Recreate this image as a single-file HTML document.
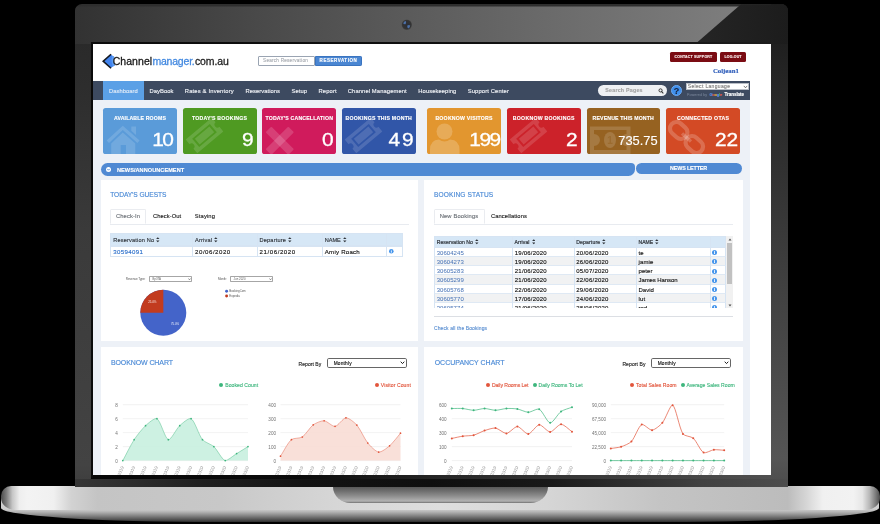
<!DOCTYPE html>
<html lang="en"><head><meta charset="utf-8"><title>Channelmanager.com.au - Dashboard</title>
<style>
*{box-sizing:border-box}
html,body{margin:0;padding:0;background:#000}
body{width:880px;height:524px;position:relative;overflow:hidden;font-family:"Liberation Sans",sans-serif}
.a{position:absolute}
.t{position:absolute;line-height:0;white-space:nowrap;-webkit-text-stroke-width:0.13px}
#bezel{position:absolute;left:75px;top:4.2px;width:712.7px;height:482.7px;border-radius:7px 7px 0 0;overflow:hidden;background:#2e2e2e}
#bl{position:absolute;left:0;top:38px;width:18px;height:444.7px;background:linear-gradient(to bottom,#2a2a2a 0,#2d2d2d 10%,#3a3a3a 42%,#434343 95%,#3d3d3d 100%)}
#br{position:absolute;left:695.5px;top:0;width:17.2px;height:482.7px;background:linear-gradient(to bottom,#191919 0,#1d1d1d 5%,#262626 17%,#3f3f3f 56%,#555555 94%,#4c4c4c 100%)}
#stripA{position:absolute;left:16px;top:470.6px;width:680.5px;height:4.2px;background:linear-gradient(to right,#070707 0,#0b0b0b 30%,#282828 53%,#3d3d3d 78%,#505050 100%)}
#stripB{position:absolute;left:0;top:474.6px;width:712.7px;height:8.1px;background:linear-gradient(to right,#363636 0,#313131 4%,#1f1f1f 18%,#131313 32%,#0f0f0f 50%,#181818 66%,#414141 88%,#4d4d4d 100%)}
#glare{position:absolute;left:0;top:2.3px;width:668px;height:37.6px;
 background:linear-gradient(to right,#323232 0,#363636 5%,#484848 26%,#5a5a5a 49%,#6c6c6c 73%,#7e7e7e 100%);
 clip-path:polygon(0 0,667.3px 0,620.8px 37.6px,0 37.6px)}
#dark{position:absolute;left:600px;top:0;width:112.7px;height:40px;background:linear-gradient(to right,#272727,#1c1c1c);
 clip-path:polygon(66px 0,112.7px 0,112.7px 40px,20px 40px)}
#rimL{position:absolute;left:16px;top:38.3px;width:2.1px;height:436px;background:#0b0b0b}
#rimT{position:absolute;left:16px;top:38.3px;width:680px;height:1.6px;background:linear-gradient(to right,#0b0b0b 0,#101010 60%,#1c1c1c 100%)}
#cam{position:absolute;left:401px;top:19px;width:12px;height:12px}
#screen{position:absolute;left:93px;top:44px;width:678px;height:431px;overflow:hidden;background:#fff}
#g{position:absolute;left:-93px;top:-44px;width:880px;height:524px;will-change:transform}
#base{position:absolute;left:0.5px;top:486.4px;width:879px;height:23.4px;border-radius:10px 10px 15px 15px/10px 10px 12px 12px;
 background:linear-gradient(to right,#4c4c4c 0,#7c7c7c 0.6%,#c6c6c6 1.3%,#eee 2.1%,#f3f3f3 3%,#f0f0f0 6%,#d2d2d2 8%,#c4c4c4 11%,#c8c8c8 25%,#d6d6d6 38%,#dedede 50%,#d6d6d6 62%,#c4c4c4 75%,#bcbcbc 89.5%,#d4d4d4 91.5%,#f0f0f0 93.5%,#f2f2f2 97%,#e6e6e6 98%,#b8b8b8 98.8%,#7c7c7c 99.5%,#4c4c4c 100%)}
#under{position:absolute;left:1px;top:498px;width:878px;height:23.8px;border-radius:0 0 215px 215px/0 0 14px 14px;
 background:linear-gradient(to bottom,#d0d0d0 0,#cfcfcf 46%,#b4b4b4 58%,#8a8a8a 72%,#585858 88%,#2e2e2e 100%)}
#notch{position:absolute;left:333.4px;top:486.6px;width:214.2px;height:16.9px;border-radius:0 0 18px 18px/0 0 16.5px 16.5px;
 background:linear-gradient(to bottom,#585858 0,#6e6e6e 25%,#8c8c8c 55%,#b2b2b2 88%,#707070 100%)}
</style></head><body>
<div id="under"></div>
<div id="base"></div>
<div id="notch"></div>
<div id="bezel"><div id="bl"></div><div id="br"></div><div id="glare"></div><div id="dark"></div><div id="stripB"></div><div id="stripA"></div><div id="rimT"></div><div id="rimL"></div></div>
<svg id="cam" viewBox="0 0 12 12"><defs><radialGradient id="cg" cx="50%" cy="50%" r="50%"><stop offset="0" stop-color="#2b2f38"/><stop offset="0.8" stop-color="#333"/><stop offset="1" stop-color="#484848"/></radialGradient></defs><circle cx="5.8" cy="5.7" r="5.2" fill="url(#cg)"/><path d="M2.2 4.4 Q2.6 2.2 4.9 1.9 Q5.4 3.6 4.6 5 Q3.4 5.6 2.2 4.4 Z" fill="#4c6fa6"/><path d="M6.3 6.6 Q8 5.6 9.2 6.6 Q9.3 8.7 7.3 9.6 Q5.8 8.6 6.3 6.6 Z" fill="#4c6fa6"/></svg>
<div id="screen"><div id="g">
<div class="a" style="left:93.00px;top:44.00px;width:678.00px;height:37.00px;background:#fff"></div>
<div class="a" style="left:93.00px;top:100.00px;width:656.50px;height:375.00px;background:#edf1f7"></div>
<svg class="a" style="left:100px;top:52px" width="18" height="18" viewBox="0 0 18 18">
<path d="M10.6 2.5 L3.6 9.3 L10.6 16.1 L15 13.3 Q12.3 9.3 14.2 4.7 Z" fill="#4284ee"/>
<path d="M12.2 4 L14.2 4.7 Q12.3 9.3 15 13.3 L13 14.6 Q10.6 9.3 12.2 4 Z" fill="#5d9df4"/>
<path d="M10.5 1.8 L2 9.3 L10.5 16.8 L11.6 15.8 L4.4 9.3 L11.6 2.8 Z" fill="#14181f"/>
</svg>
<div class="t" style="left:112.70px;top:61px;font-size:10.5px;color:#161616;letter-spacing:0.054px;-webkit-text-stroke:0.28px #161616;">Channel</div>
<div class="t" style="left:152.40px;top:61px;font-size:10.5px;color:#4389e0;letter-spacing:-0.198px;-webkit-text-stroke:0.28px #4389e0;">manager.</div>
<div class="t" style="left:194.90px;top:61px;font-size:10.5px;color:#222;letter-spacing:-0.073px;-webkit-text-stroke:0.28px #222;">com.au</div>
<div class="a" style="left:258.30px;top:55.90px;width:56.50px;height:9.90px;background:#fff;border:0.7px solid #9aa4b2;border-radius:1px"></div>
<div class="t" style="left:263.10px;top:61px;font-size:4.6px;color:#a9adb3;letter-spacing:0.253px;">Search Reservation</div>
<div class="a" style="left:314.50px;top:55.90px;width:47.60px;height:9.90px;background:#4a86d2;border-radius:0 1.2px 1.2px 0;border:0.5px solid #3a74c0"></div>
<div class="t" style="left:319.60px;top:61px;font-size:4.5px;color:#fff;letter-spacing:0.539px;font-weight:700;">RESERVATION</div>
<div class="a" style="left:669.80px;top:51.80px;width:47.10px;height:10.00px;background:#7b0c13;border-radius:1.5px"></div>
<div class="t" style="left:674.60px;top:57px;font-size:3.5px;color:#fbeeee;letter-spacing:0.203px;font-weight:700;-webkit-text-stroke:0.12px #fbeeee;">CONTACT SUPPORT</div>
<div class="a" style="left:720.00px;top:51.80px;width:26.40px;height:10.00px;background:#7b0c13;border-radius:1.5px"></div>
<div class="t" style="left:724.50px;top:57px;font-size:3.5px;color:#fbeeee;letter-spacing:0.137px;font-weight:700;-webkit-text-stroke:0.12px #fbeeee;">LOG-OUT</div>
<div class="t" style="left:712.90px;top:71px;font-size:6.8px;color:#2d5cba;letter-spacing:-0.020px;font-weight:700;font-family:'Liberation Serif', serif;-webkit-text-stroke:0.15px #2d5cba;">Coljean1</div>
<div class="a" style="left:93.00px;top:81.00px;width:656.50px;height:19.00px;background:#3d4a60"></div>
<div class="a" style="left:103.00px;top:81.00px;width:41.00px;height:19.00px;background:#5ba0e6"></div>
<div class="t" style="left:108.90px;top:91px;font-size:5.8px;color:#dfeaf8;letter-spacing:0.071px;">Dashboard</div>
<div class="t" style="left:149.50px;top:91px;font-size:5.8px;color:#f2f4f8;letter-spacing:0.053px;">DayBook</div>
<div class="t" style="left:184.80px;top:91px;font-size:5.8px;color:#f2f4f8;letter-spacing:0.178px;">Rates &amp; Inventory</div>
<div class="t" style="left:245.50px;top:91px;font-size:5.8px;color:#f2f4f8;letter-spacing:0.055px;">Reservations</div>
<div class="t" style="left:291.40px;top:91px;font-size:5.8px;color:#f2f4f8;letter-spacing:0.129px;">Setup</div>
<div class="t" style="left:318.50px;top:91px;font-size:5.8px;color:#f2f4f8;letter-spacing:0.132px;">Report</div>
<div class="t" style="left:347.80px;top:91px;font-size:5.8px;color:#f2f4f8;letter-spacing:0.109px;">Channel Management</div>
<div class="t" style="left:418.30px;top:91px;font-size:5.8px;color:#f2f4f8;letter-spacing:0.085px;">Housekeeping</div>
<div class="t" style="left:467.70px;top:91px;font-size:5.8px;color:#f2f4f8;letter-spacing:0.141px;">Support Center</div>
<div class="a" style="left:597.70px;top:84.90px;width:69.30px;height:10.90px;background:#eef0f3;border-radius:5.5px"></div>
<div class="t" style="left:605.30px;top:90px;font-size:5.3px;color:#a2a2a2;letter-spacing:0.229px;font-weight:700;">Search Pages</div>
<svg class="a" style="left:657.6px;top:87.8px" width="6" height="6" viewBox="0 0 8 8"><circle cx="3.4" cy="3.2" r="2.1" fill="none" stroke="#333" stroke-width="1.3"/><path d="M4.9 4.8 L6.7 6.7" stroke="#333" stroke-width="1.5" stroke-linecap="round"/></svg>
<div class="a" style="left:670.90px;top:84.90px;width:11.00px;height:11.00px;background:#3f8fec;border-radius:50%;border:0.6px solid #6aa9f2"></div>
<div class="t" style="left:673.65px;top:91px;font-size:9px;color:#17233f;font-weight:700;">?</div>
<div class="a" style="left:686.20px;top:83.30px;width:62.80px;height:6.70px;background:#fff;border:0.5px solid #b9bec6"></div>
<div class="t" style="left:687.80px;top:86px;font-size:5.0px;color:#7d7d7d;letter-spacing:0.330px;">Select Language</div>
<svg class="a" style="left:742.5px;top:85px" width="5" height="4" viewBox="0 0 5 4"><path d="M0.8 0.9 L2.5 2.8 L4.2 0.9" fill="none" stroke="#555" stroke-width="0.8"/></svg>
<div class="t" style="left:686.90px;top:95px;font-size:3.6px;color:#6d7a8e;letter-spacing:0.142px;">Powered by</div>
<div class="t" style="left:709.40px;top:95px;font-size:4.2px;color:#aaa;letter-spacing:-0.311px;font-weight:700;"><span style="color:#5b8def">G</span><span style="color:#e2574c">o</span><span style="color:#e8b53a">o</span><span style="color:#5b8def">g</span><span style="color:#4caf6a">l</span><span style="color:#e2574c">e</span></div>
<div class="t" style="left:724.50px;top:95px;font-size:4.6px;color:#fff;letter-spacing:-0.075px;font-weight:700;">Translate</div>
<div class="a" style="left:103px;top:107.9px;width:74.0px;height:46.2px;background:#5a9bd9;border-radius:2.6px;overflow:hidden"><svg class="a" style="left:0;top:0" width="74" height="47" viewBox="0 0 74 47"><g fill="#fff" fill-opacity="0.14"><path d="M3.6 32.6 L19.8 17.8 L36.6 32.6 L34.4 35 L19.8 22 L6 35 Z"/><path d="M8.2 35.4 L19.8 24.6 L32.3 35.4 L32.3 47 L23 47 L23 37 L17.7 37 L17.7 47 L8.2 47 Z"/><path d="M28.3 18.4 L33 18.4 L33 27 L28.3 22.8 Z"/></g></svg></div>
<div class="t" style="left:114.00px;top:118px;font-size:5.2px;color:#fff;letter-spacing:0.136px;font-weight:700;">AVAILABLE ROOMS</div>
<div class="t" style="left:154.46px;top:140px;font-size:19px;color:#fff;-webkit-text-stroke:0.32px #fff;transform:scaleX(1.1);transform-origin:right center;letter-spacing:-1.4px;">10</div>
<div class="a" style="left:183px;top:107.9px;width:73.5px;height:46.2px;background:#4f9a22;border-radius:2.6px;overflow:hidden"><svg class="a" style="left:0;top:0" width="74" height="47" viewBox="0 0 74 47"><g fill="#fff" fill-opacity="0.14" transform="translate(21.5,27.5) rotate(-40)"><path d="M-17 -9 L17 -9 L17 -3 A3 3 0 0 0 17 3 L17 9 L-17 9 L-17 3 A3 3 0 0 0 -17 -3 Z M-11.5 -5.5 L-11.5 5.5 L11.5 5.5 L11.5 -5.5 Z"/><rect x="-9.5" y="-3.7" width="19" height="7.4"/></g></svg></div>
<div class="t" style="left:192.10px;top:118px;font-size:5.2px;color:#fff;letter-spacing:0.189px;font-weight:700;">TODAY&#39;S BOOKINGS</div>
<div class="t" style="left:243.22px;top:140px;font-size:19px;color:#fff;-webkit-text-stroke:0.32px #fff;transform:scaleX(1.1);transform-origin:right center;letter-spacing:0.0px;">9</div>
<div class="a" style="left:262.1px;top:107.9px;width:73.9px;height:46.2px;background:#d01b5c;border-radius:2.6px;overflow:hidden"><svg class="a" style="left:0;top:0" width="74" height="47" viewBox="0 0 74 47"><g fill="#fff" fill-opacity="0.16" transform="translate(17.8,32.8)"><rect x="-16" y="-4" width="32" height="8" rx="1" transform="rotate(45)"/><rect x="-16" y="-4" width="32" height="8" rx="1" transform="rotate(-45)"/></g></svg></div>
<div class="t" style="left:265.50px;top:118px;font-size:5.2px;color:#fff;letter-spacing:0.167px;font-weight:700;">TODAY&#39;S CANCELLATION</div>
<div class="t" style="left:322.72px;top:140px;font-size:19px;color:#fff;-webkit-text-stroke:0.32px #fff;transform:scaleX(1.1);transform-origin:right center;letter-spacing:0.0px;">0</div>
<div class="a" style="left:341.9px;top:107.9px;width:73.8px;height:46.2px;background:#3156a8;border-radius:2.6px;overflow:hidden"><svg class="a" style="left:0;top:0" width="74" height="47" viewBox="0 0 74 47"><g fill="#fff" fill-opacity="0.14" transform="translate(21.5,27.5) rotate(-40)"><path d="M-17 -9 L17 -9 L17 -3 A3 3 0 0 0 17 3 L17 9 L-17 9 L-17 3 A3 3 0 0 0 -17 -3 Z M-11.5 -5.5 L-11.5 5.5 L11.5 5.5 L11.5 -5.5 Z"/><rect x="-9.5" y="-3.7" width="19" height="7.4"/></g></svg></div>
<div class="t" style="left:345.60px;top:118px;font-size:5.2px;color:#fff;letter-spacing:0.238px;font-weight:700;">BOOKINGS THIS MONTH</div>
<div class="t" style="left:391.06px;top:140px;font-size:19px;color:#fff;-webkit-text-stroke:0.32px #fff;transform:scaleX(1.1);transform-origin:right center;letter-spacing:1.6px;">49</div>
<div class="a" style="left:427.2px;top:107.9px;width:73.8px;height:46.2px;background:#e2962f;border-radius:2.6px;overflow:hidden"><svg class="a" style="left:0;top:0" width="74" height="47" viewBox="0 0 74 47"><g fill="#fff" fill-opacity="0.2"><circle cx="17.5" cy="23.5" r="8"/><path d="M3 46 L3 42 Q3 32 12 31.6 Q17.5 35.5 23 31.6 Q32.5 32 32.5 42 L32.5 46 Z"/></g></svg></div>
<div class="t" style="left:435.40px;top:118px;font-size:5.2px;color:#fff;letter-spacing:0.224px;font-weight:700;">BOOKNOW VISITORS</div>
<div class="t" style="left:471.60px;top:140px;font-size:19px;color:#fff;-webkit-text-stroke:0.32px #fff;transform:scaleX(1.1);transform-origin:right center;letter-spacing:-1.3px;">199</div>
<div class="a" style="left:507.2px;top:107.9px;width:73.6px;height:46.2px;background:#cc222a;border-radius:2.6px;overflow:hidden"><svg class="a" style="left:0;top:0" width="74" height="47" viewBox="0 0 74 47"><g fill="#fff" fill-opacity="0.14" transform="translate(21.5,27.5) rotate(-40)"><path d="M-17 -9 L17 -9 L17 -3 A3 3 0 0 0 17 3 L17 9 L-17 9 L-17 3 A3 3 0 0 0 -17 -3 Z M-11.5 -5.5 L-11.5 5.5 L11.5 5.5 L11.5 -5.5 Z"/><rect x="-9.5" y="-3.7" width="19" height="7.4"/></g></svg></div>
<div class="t" style="left:512.80px;top:118px;font-size:5.2px;color:#fff;letter-spacing:0.254px;font-weight:700;">BOOKNOW BOOKINGS</div>
<div class="t" style="left:567.22px;top:140px;font-size:19px;color:#fff;-webkit-text-stroke:0.32px #fff;transform:scaleX(1.1);transform-origin:right center;letter-spacing:0.0px;">2</div>
<div class="a" style="left:586.7px;top:107.9px;width:73.6px;height:46.2px;background:#966221;border-radius:2.6px;overflow:hidden"><svg class="a" style="left:0;top:0" width="74" height="47" viewBox="0 0 74 47"><g fill="#fff" fill-opacity="0.15"><path d="M3 18.5 L43.5 18.5 L43.5 46 L3 46 Z M7 22 L7 26 A2.5 2.5 0 0 1 7 38 L7 42 L39.5 42 L39.5 38 A2.5 2.5 0 0 1 39.5 26 L39.5 22 Z"/><ellipse cx="23" cy="32" rx="6" ry="8"/></g><text x="23" y="35.6" font-size="10" font-weight="700" text-anchor="middle" fill="#966221" fill-opacity="0.55" font-family="Liberation Sans, sans-serif">1</text></svg></div>
<div class="t" style="left:592.60px;top:118px;font-size:5.2px;color:#fff;letter-spacing:0.139px;font-weight:700;">REVENUE THIS MONTH</div>
<div class="t" style="left:618.26px;top:141px;font-size:12.9px;color:#fff;-webkit-text-stroke:0.12px #fff;transform:scaleY(1.04);">735.75</div>
<div class="a" style="left:666.2px;top:107.9px;width:73.8px;height:46.2px;background:#d34a25;border-radius:2.6px;overflow:hidden"><svg class="a" style="left:0;top:0" width="74" height="47" viewBox="0 0 74 47"><g fill="none" stroke="#fff" stroke-opacity="0.2" stroke-width="4.2" transform="translate(20.5,29.5) rotate(42)"><rect x="-20" y="-6.5" width="19" height="13" rx="6.5"/><rect x="1" y="-6.5" width="19" height="13" rx="6.5"/><path d="M-6 0 L6 0" stroke-width="3.4"/></g></svg></div>
<div class="t" style="left:677.00px;top:118px;font-size:5.2px;color:#fff;letter-spacing:0.277px;font-weight:700;">CONNECTED OTAS</div>
<div class="t" style="left:716.66px;top:140px;font-size:19px;color:#fff;-webkit-text-stroke:0.32px #fff;transform:scaleX(1.1);transform-origin:right center;letter-spacing:0.0px;">22</div>
<div class="a" style="left:101.10px;top:162.60px;width:533.80px;height:13.10px;background:#4f89d3;border-radius:6.5px 4px 6.5px 6.5px/6.5px 4px 6.5px 6.5px"></div>
<div class="a" style="left:635.50px;top:162.60px;width:106.40px;height:11.90px;background:#4f89d3;border-radius:6px"></div>
<div class="a" style="left:106.10px;top:166.90px;width:5.00px;height:5.00px;background:#fff;border-radius:50%"></div>
<svg class="a" style="left:106.1px;top:166.9px" width="5" height="5" viewBox="0 0 5 5"><path d="M1.3 1.9 L2.5 3.2 L3.7 1.9" fill="none" stroke="#4f89d3" stroke-width="0.9"/></svg>
<div class="t" style="left:117.00px;top:170px;font-size:5.6px;color:#fff;letter-spacing:0.040px;font-weight:700;">NEWS/ANNOUNCEMENT</div>
<div class="t" style="left:670.00px;top:168px;font-size:5.4px;color:#fff;letter-spacing:-0.149px;font-weight:700;">NEWS LETTER</div>
<div class="a" style="left:100.50px;top:179.70px;width:317.80px;height:161.40px;background:#fff"></div>
<div class="a" style="left:424.20px;top:179.70px;width:318.70px;height:161.40px;background:#fff"></div>
<div class="a" style="left:100.50px;top:347.40px;width:317.80px;height:132.60px;background:#fff"></div>
<div class="a" style="left:424.20px;top:347.40px;width:318.70px;height:132.60px;background:#fff"></div>
<div class="t" style="left:110.20px;top:195px;font-size:6.6px;color:#4b8ad6;letter-spacing:-0.037px;-webkit-text-stroke:0.14px #4b8ad6;transform:scaleY(1.12);">TODAY&#39;S GUESTS</div>
<div class="t" style="left:433.90px;top:195px;font-size:6.6px;color:#4b8ad6;letter-spacing:0.133px;-webkit-text-stroke:0.14px #4b8ad6;transform:scaleY(1.12);">BOOKING STATUS</div>
<div class="t" style="left:110.90px;top:363px;font-size:7.0px;color:#4b8ad6;letter-spacing:-0.097px;-webkit-text-stroke:0.14px #4b8ad6;transform:scaleY(1.12);">BOOKNOW CHART</div>
<div class="t" style="left:434.70px;top:363px;font-size:7.0px;color:#4b8ad6;letter-spacing:-0.014px;-webkit-text-stroke:0.14px #4b8ad6;transform:scaleY(1.12);">OCCUPANCY CHART</div>
<div class="a" style="left:110.20px;top:223.50px;width:298.60px;height:0.60px;background:#e8ebf0"></div>
<div class="a" style="left:110.20px;top:208.50px;width:35.50px;height:15.70px;background:#fff;border:0.5px solid #eaecf0;border-bottom:0.7px solid #fff;border-radius:1.5px 1.5px 0 0"></div>
<div class="t" style="left:116.00px;top:216px;font-size:5.8px;color:#6d7278;letter-spacing:0.100px;">Check-In</div>
<div class="t" style="left:153.00px;top:216px;font-size:5.8px;color:#1c1c1c;letter-spacing:0.065px;">Check-Out</div>
<div class="t" style="left:194.80px;top:216px;font-size:5.8px;color:#1c1c1c;letter-spacing:0.137px;">Staying</div>
<div class="a" style="left:434.00px;top:223.50px;width:299.30px;height:0.60px;background:#e8ebf0"></div>
<div class="a" style="left:433.90px;top:208.50px;width:50.70px;height:15.70px;background:#fff;border:0.5px solid #eaecf0;border-bottom:0.7px solid #fff;border-radius:1.5px 1.5px 0 0"></div>
<div class="t" style="left:439.70px;top:216px;font-size:5.8px;color:#6d7278;letter-spacing:0.136px;">New Bookings</div>
<div class="t" style="left:490.90px;top:216px;font-size:5.8px;color:#1c1c1c;letter-spacing:0.099px;">Cancellations</div>
<div class="a" style="left:110.20px;top:233.20px;width:292.50px;height:13.20px;background:#d6e7f6;border:0.5px solid #d6e4f3"></div>
<div class="a" style="left:110.20px;top:246.30px;width:292.50px;height:10.60px;background:#fff;border:0.5px solid #d6e4f3"></div>
<div class="a" style="left:192.35px;top:233.20px;width:0.50px;height:23.70px;background:#d6e4f3"></div>
<div class="a" style="left:257.25px;top:233.20px;width:0.50px;height:23.70px;background:#d6e4f3"></div>
<div class="a" style="left:322.35px;top:233.20px;width:0.50px;height:23.70px;background:#d6e4f3"></div>
<div class="a" style="left:386.05px;top:233.20px;width:0.50px;height:23.70px;background:#d6e4f3"></div>
<div class="t" style="left:113.20px;top:240px;font-size:5.6px;color:#2d3238;letter-spacing:0.181px;">Reservation No</div>
<svg class="a" style="left:156.2px;top:237.2px" width="3.6" height="5.5" viewBox="0 0 4 6"><path d="M0.1 2.25 L2 0.1 L3.9 2.25 Z M0.1 3.75 L2 5.9 L3.9 3.75 Z" fill="#2d3238"/></svg>
<div class="t" style="left:195.10px;top:240px;font-size:5.6px;color:#2d3238;letter-spacing:0.177px;">Arrival</div>
<svg class="a" style="left:214.2px;top:237.2px" width="3.6" height="5.5" viewBox="0 0 4 6"><path d="M0.1 2.25 L2 0.1 L3.9 2.25 Z M0.1 3.75 L2 5.9 L3.9 3.75 Z" fill="#2d3238"/></svg>
<div class="t" style="left:259.60px;top:240px;font-size:5.6px;color:#2d3238;letter-spacing:0.169px;">Departure</div>
<svg class="a" style="left:288.2px;top:237.2px" width="3.6" height="5.5" viewBox="0 0 4 6"><path d="M0.1 2.25 L2 0.1 L3.9 2.25 Z M0.1 3.75 L2 5.9 L3.9 3.75 Z" fill="#2d3238"/></svg>
<div class="t" style="left:324.80px;top:240px;font-size:5.6px;color:#2d3238;letter-spacing:-0.068px;">NAME</div>
<svg class="a" style="left:343.2px;top:237.2px" width="3.6" height="5.5" viewBox="0 0 4 6"><path d="M0.1 2.25 L2 0.1 L3.9 2.25 Z M0.1 3.75 L2 5.9 L3.9 3.75 Z" fill="#2d3238"/></svg>
<div class="t" style="left:113.20px;top:252px;font-size:6.1px;color:#2b6fcb;letter-spacing:0.372px;">30594091</div>
<div class="t" style="left:195.10px;top:252px;font-size:6.1px;color:#111;letter-spacing:0.510px;">20/06/2020</div>
<div class="t" style="left:259.60px;top:252px;font-size:6.1px;color:#111;letter-spacing:0.560px;">21/06/2020</div>
<div class="t" style="left:324.80px;top:252px;font-size:6.1px;color:#111;letter-spacing:0.234px;">Amiy Roach</div>
<svg class="a" style="left:389.1px;top:249.4px" width="4.6" height="4.6" viewBox="0 0 10 10"><circle cx="5" cy="5" r="5" fill="#4394ec"/><rect x="4.1" y="4.2" width="1.8" height="3.8" fill="#fff"/><circle cx="5" cy="2.7" r="1.05" fill="#fff"/></svg>
<div class="t" style="left:125.80px;top:279px;font-size:3.1px;color:#5a5a5a;letter-spacing:-0.090px;-webkit-text-stroke-width:0;">Revenue Type:</div>
<div class="a" style="left:149.20px;top:275.60px;width:42.80px;height:6.70px;background:#fff;border:0.45px solid #a6a6a6;border-radius:0.8px"></div>
<div class="t" style="left:152.60px;top:279px;font-size:2.8px;color:#5a5a5a;letter-spacing:-0.266px;-webkit-text-stroke-width:0;">By OTA</div>
<svg class="a" style="left:188.0px;top:277.8px" width="3" height="2.4" viewBox="0 0 3 2.4"><path d="M0.4 0.5 L1.5 1.8 L2.6 0.5" fill="none" stroke="#444" stroke-width="0.6"/></svg>
<div class="t" style="left:218.00px;top:279px;font-size:3.1px;color:#5a5a5a;letter-spacing:-0.128px;-webkit-text-stroke-width:0;">Month:</div>
<div class="a" style="left:230.10px;top:275.60px;width:42.90px;height:6.70px;background:#fff;border:0.45px solid #a6a6a6;border-radius:0.8px"></div>
<div class="t" style="left:233.60px;top:279px;font-size:2.8px;color:#5a5a5a;letter-spacing:0.061px;-webkit-text-stroke-width:0;">Jun 2020</div>
<svg class="a" style="left:269.0px;top:277.8px" width="3" height="2.4" viewBox="0 0 3 2.4"><path d="M0.4 0.5 L1.5 1.8 L2.6 0.5" fill="none" stroke="#444" stroke-width="0.6"/></svg>
<div class="a" style="left:434.20px;top:235.90px;width:292.00px;height:12.00px;background:#d6e7f6;border:0.5px solid #d6e4f3"></div>
<div class="a" style="left:434.20px;top:247.80px;width:292.00px;height:9.30px;background:#fff;border-bottom:0.5px solid #dfe9f4;border-left:0.5px solid #d6e4f3;border-right:0.5px solid #d6e4f3"></div>
<div class="t" style="left:436.70px;top:253px;font-size:6.0px;color:#4d78b9;letter-spacing:0.050px;-webkit-text-stroke-width:0.04px;">30604245</div>
<div class="t" style="left:514.80px;top:253px;font-size:6.0px;color:#111;letter-spacing:0.207px;">19/06/2020</div>
<div class="t" style="left:576.30px;top:253px;font-size:6.0px;color:#111;letter-spacing:0.237px;">20/06/2020</div>
<div class="t" style="left:638.50px;top:253px;font-size:6.0px;color:#111;letter-spacing:0.092px;">te</div>
<svg class="a" style="left:712.2px;top:250.2px" width="5.0" height="5.0" viewBox="0 0 10 10"><circle cx="5" cy="5" r="5" fill="#4394ec"/><rect x="4.1" y="4.2" width="1.8" height="3.8" fill="#fff"/><circle cx="5" cy="2.7" r="1.05" fill="#fff"/></svg>
<div class="a" style="left:434.20px;top:257.00px;width:292.00px;height:9.30px;background:#f1f2f3;border-bottom:0.5px solid #dfe9f4;border-left:0.5px solid #d6e4f3;border-right:0.5px solid #d6e4f3"></div>
<div class="t" style="left:436.70px;top:262px;font-size:6.0px;color:#4d78b9;letter-spacing:0.050px;-webkit-text-stroke-width:0.04px;">30604273</div>
<div class="t" style="left:514.80px;top:262px;font-size:6.0px;color:#111;letter-spacing:0.207px;">19/06/2020</div>
<div class="t" style="left:576.30px;top:262px;font-size:6.0px;color:#111;letter-spacing:0.237px;">26/06/2020</div>
<div class="t" style="left:638.50px;top:262px;font-size:6.0px;color:#111;letter-spacing:0.111px;">jamie</div>
<svg class="a" style="left:712.2px;top:259.4px" width="5.0" height="5.0" viewBox="0 0 10 10"><circle cx="5" cy="5" r="5" fill="#4394ec"/><rect x="4.1" y="4.2" width="1.8" height="3.8" fill="#fff"/><circle cx="5" cy="2.7" r="1.05" fill="#fff"/></svg>
<div class="a" style="left:434.20px;top:266.20px;width:292.00px;height:9.30px;background:#fff;border-bottom:0.5px solid #dfe9f4;border-left:0.5px solid #d6e4f3;border-right:0.5px solid #d6e4f3"></div>
<div class="t" style="left:436.70px;top:271px;font-size:6.0px;color:#4d78b9;letter-spacing:0.050px;-webkit-text-stroke-width:0.04px;">30605283</div>
<div class="t" style="left:514.80px;top:271px;font-size:6.0px;color:#111;letter-spacing:0.207px;">21/06/2020</div>
<div class="t" style="left:576.30px;top:271px;font-size:6.0px;color:#111;letter-spacing:0.237px;">05/07/2020</div>
<div class="t" style="left:638.50px;top:271px;font-size:6.0px;color:#111;letter-spacing:0.062px;">peter</div>
<svg class="a" style="left:712.2px;top:268.6px" width="5.0" height="5.0" viewBox="0 0 10 10"><circle cx="5" cy="5" r="5" fill="#4394ec"/><rect x="4.1" y="4.2" width="1.8" height="3.8" fill="#fff"/><circle cx="5" cy="2.7" r="1.05" fill="#fff"/></svg>
<div class="a" style="left:434.20px;top:275.40px;width:292.00px;height:9.30px;background:#f1f2f3;border-bottom:0.5px solid #dfe9f4;border-left:0.5px solid #d6e4f3;border-right:0.5px solid #d6e4f3"></div>
<div class="t" style="left:436.70px;top:280px;font-size:6.0px;color:#4d78b9;letter-spacing:0.050px;-webkit-text-stroke-width:0.04px;">30605299</div>
<div class="t" style="left:514.80px;top:280px;font-size:6.0px;color:#111;letter-spacing:0.207px;">21/06/2020</div>
<div class="t" style="left:576.30px;top:280px;font-size:6.0px;color:#111;letter-spacing:0.237px;">22/06/2020</div>
<div class="t" style="left:638.50px;top:280px;font-size:6.0px;color:#111;letter-spacing:-0.094px;">James Hanson</div>
<svg class="a" style="left:712.2px;top:277.8px" width="5.0" height="5.0" viewBox="0 0 10 10"><circle cx="5" cy="5" r="5" fill="#4394ec"/><rect x="4.1" y="4.2" width="1.8" height="3.8" fill="#fff"/><circle cx="5" cy="2.7" r="1.05" fill="#fff"/></svg>
<div class="a" style="left:434.20px;top:284.60px;width:292.00px;height:9.30px;background:#fff;border-bottom:0.5px solid #dfe9f4;border-left:0.5px solid #d6e4f3;border-right:0.5px solid #d6e4f3"></div>
<div class="t" style="left:436.70px;top:290px;font-size:6.0px;color:#4d78b9;letter-spacing:0.050px;-webkit-text-stroke-width:0.04px;">30605768</div>
<div class="t" style="left:514.80px;top:290px;font-size:6.0px;color:#111;letter-spacing:0.207px;">22/06/2020</div>
<div class="t" style="left:576.30px;top:290px;font-size:6.0px;color:#111;letter-spacing:0.237px;">29/06/2020</div>
<div class="t" style="left:638.50px;top:290px;font-size:6.0px;color:#111;letter-spacing:0.011px;">David</div>
<svg class="a" style="left:712.2px;top:287.0px" width="5.0" height="5.0" viewBox="0 0 10 10"><circle cx="5" cy="5" r="5" fill="#4394ec"/><rect x="4.1" y="4.2" width="1.8" height="3.8" fill="#fff"/><circle cx="5" cy="2.7" r="1.05" fill="#fff"/></svg>
<div class="a" style="left:434.20px;top:293.80px;width:292.00px;height:9.30px;background:#f1f2f3;border-bottom:0.5px solid #dfe9f4;border-left:0.5px solid #d6e4f3;border-right:0.5px solid #d6e4f3"></div>
<div class="t" style="left:436.70px;top:299px;font-size:6.0px;color:#4d78b9;letter-spacing:0.050px;-webkit-text-stroke-width:0.04px;">30605770</div>
<div class="t" style="left:514.80px;top:299px;font-size:6.0px;color:#111;letter-spacing:0.207px;">17/06/2020</div>
<div class="t" style="left:576.30px;top:299px;font-size:6.0px;color:#111;letter-spacing:0.237px;">24/06/2020</div>
<div class="t" style="left:638.50px;top:299px;font-size:6.0px;color:#111;letter-spacing:0.185px;">lut</div>
<svg class="a" style="left:712.2px;top:296.2px" width="5.0" height="5.0" viewBox="0 0 10 10"><circle cx="5" cy="5" r="5" fill="#4394ec"/><rect x="4.1" y="4.2" width="1.8" height="3.8" fill="#fff"/><circle cx="5" cy="2.7" r="1.05" fill="#fff"/></svg>
<div class="a" style="left:434.20px;top:303.00px;width:292.00px;height:9.30px;background:#fff;border-bottom:0.5px solid #dfe9f4;border-left:0.5px solid #d6e4f3;border-right:0.5px solid #d6e4f3"></div>
<div class="t" style="left:436.70px;top:308px;font-size:6.0px;color:#4d78b9;letter-spacing:0.050px;-webkit-text-stroke-width:0.04px;">30605774</div>
<div class="t" style="left:514.80px;top:308px;font-size:6.0px;color:#111;letter-spacing:0.207px;">21/06/2020</div>
<div class="t" style="left:576.30px;top:308px;font-size:6.0px;color:#111;letter-spacing:0.237px;">28/06/2020</div>
<div class="t" style="left:638.50px;top:308px;font-size:6.0px;color:#111;letter-spacing:-0.091px;">rod</div>
<svg class="a" style="left:712.2px;top:305.4px" width="5.0" height="5.0" viewBox="0 0 10 10"><circle cx="5" cy="5" r="5" fill="#4394ec"/><rect x="4.1" y="4.2" width="1.8" height="3.8" fill="#fff"/><circle cx="5" cy="2.7" r="1.05" fill="#fff"/></svg>
<div class="a" style="left:512.35px;top:235.90px;width:0.50px;height:76.30px;background:#d6e4f3"></div>
<div class="a" style="left:574.25px;top:235.90px;width:0.50px;height:76.30px;background:#d6e4f3"></div>
<div class="a" style="left:636.25px;top:235.90px;width:0.50px;height:76.30px;background:#d6e4f3"></div>
<div class="a" style="left:710.15px;top:235.90px;width:0.50px;height:76.30px;background:#d6e4f3"></div>
<div class="t" style="left:436.70px;top:242px;font-size:5.1px;color:#30353b;letter-spacing:0.085px;-webkit-text-stroke-width:0.2px;">Reservation No</div>
<svg class="a" style="left:475.0px;top:239.2px" width="3.6" height="5.5" viewBox="0 0 4 6"><path d="M0.1 2.25 L2 0.1 L3.9 2.25 Z M0.1 3.75 L2 5.9 L3.9 3.75 Z" fill="#2d3238"/></svg>
<div class="t" style="left:514.60px;top:242px;font-size:5.1px;color:#30353b;letter-spacing:0.066px;-webkit-text-stroke-width:0.2px;">Arrival</div>
<svg class="a" style="left:531.7px;top:239.2px" width="3.6" height="5.5" viewBox="0 0 4 6"><path d="M0.1 2.25 L2 0.1 L3.9 2.25 Z M0.1 3.75 L2 5.9 L3.9 3.75 Z" fill="#2d3238"/></svg>
<div class="t" style="left:576.30px;top:242px;font-size:5.1px;color:#30353b;letter-spacing:0.138px;-webkit-text-stroke-width:0.2px;">Departure</div>
<svg class="a" style="left:602.0px;top:239.2px" width="3.6" height="5.5" viewBox="0 0 4 6"><path d="M0.1 2.25 L2 0.1 L3.9 2.25 Z M0.1 3.75 L2 5.9 L3.9 3.75 Z" fill="#2d3238"/></svg>
<div class="t" style="left:638.50px;top:242px;font-size:5.1px;color:#30353b;letter-spacing:-0.005px;-webkit-text-stroke-width:0.2px;">NAME</div>
<svg class="a" style="left:655.2px;top:239.2px" width="3.6" height="5.5" viewBox="0 0 4 6"><path d="M0.1 2.25 L2 0.1 L3.9 2.25 Z M0.1 3.75 L2 5.9 L3.9 3.75 Z" fill="#2d3238"/></svg>
<div class="a" style="left:726.40px;top:235.90px;width:6.20px;height:76.30px;background:#f1f1f1"></div>
<div class="a" style="left:727.30px;top:242.70px;width:4.60px;height:41.60px;background:#c1c1c1"></div>
<svg class="a" style="left:727.6px;top:238.4px" width="4" height="3" viewBox="0 0 4 3"><path d="M0.5 2.4 L2 0.6 L3.5 2.4 Z" fill="#505050"/></svg>
<svg class="a" style="left:727.6px;top:304px" width="4" height="3" viewBox="0 0 4 3"><path d="M0.5 0.6 L2 2.4 L3.5 0.6 Z" fill="#505050"/></svg>
<div class="a" style="left:430.00px;top:308.00px;width:306.00px;height:12.00px;background:#fff"></div>
<div class="a" style="left:434.00px;top:316.20px;width:299.30px;height:0.60px;background:#dcdfe4"></div>
<div class="t" style="left:434.00px;top:328px;font-size:5.0px;color:#5d91d2;letter-spacing:0.106px;">Check all the Bookings</div>
<div class="t" style="left:298.60px;top:364px;font-size:5.0px;color:#222;letter-spacing:0.052px;">Report By</div>
<div class="a" style="left:327.10px;top:357.80px;width:79.70px;height:10.20px;background:#fff;border:0.7px solid #666;border-radius:1.8px"></div>
<div class="t" style="left:333.70px;top:364px;font-size:4.8px;color:#111;letter-spacing:0.186px;">Monthly</div>
<svg class="a" style="left:399.8px;top:361.4px" width="5" height="3.4" viewBox="0 0 5 3.4"><path d="M0.7 0.7 L2.5 2.6 L4.3 0.7" fill="none" stroke="#111" stroke-width="0.95"/></svg>
<div class="t" style="left:622.40px;top:364px;font-size:5.0px;color:#222;letter-spacing:0.107px;">Report By</div>
<div class="a" style="left:651.10px;top:357.80px;width:80.20px;height:10.20px;background:#fff;border:0.7px solid #666;border-radius:1.8px"></div>
<div class="t" style="left:657.70px;top:364px;font-size:4.8px;color:#111;letter-spacing:0.186px;">Monthly</div>
<svg class="a" style="left:724.3px;top:361.4px" width="5" height="3.4" viewBox="0 0 5 3.4"><path d="M0.7 0.7 L2.5 2.6 L4.3 0.7" fill="none" stroke="#111" stroke-width="0.95"/></svg>
<div class="a" style="left:219.30px;top:382.60px;width:4.00px;height:4.00px;background:#3db67d;border-radius:50%"></div>
<div class="t" style="left:225.30px;top:385px;font-size:5.1px;color:#3db67d;letter-spacing:0.042px;">Booked Count</div>
<div class="a" style="left:374.80px;top:382.60px;width:4.00px;height:4.00px;background:#e2553b;border-radius:50%"></div>
<div class="t" style="left:380.80px;top:385px;font-size:5.1px;color:#e2553b;letter-spacing:0.079px;">Visitor Count</div>
<div class="a" style="left:485.90px;top:382.60px;width:4.00px;height:4.00px;background:#e2553b;border-radius:50%"></div>
<div class="t" style="left:491.90px;top:385px;font-size:5.1px;color:#e2553b;letter-spacing:-0.058px;">Daily Rooms Let</div>
<div class="a" style="left:532.50px;top:382.60px;width:4.00px;height:4.00px;background:#3db67d;border-radius:50%"></div>
<div class="t" style="left:538.50px;top:385px;font-size:5.1px;color:#3db67d;">Daily Rooms To Let</div>
<div class="a" style="left:630.00px;top:382.60px;width:4.00px;height:4.00px;background:#e2553b;border-radius:50%"></div>
<div class="t" style="left:636.00px;top:385px;font-size:5.1px;color:#e2553b;letter-spacing:0.042px;">Total Sales Room</div>
<div class="a" style="left:680.70px;top:382.60px;width:4.00px;height:4.00px;background:#3db67d;border-radius:50%"></div>
<div class="t" style="left:686.40px;top:385px;font-size:5.1px;color:#3db67d;letter-spacing:0.020px;">Average Sales Room</div>
<svg class="a" style="left:0;top:0" width="880" height="524" viewBox="0 0 880 524" font-family="Liberation Sans, sans-serif">
<circle cx="163.3" cy="312.7" r="23" fill="#4464c9"/>
<path d="M163.3 312.7 L140.3 312.7 A23 23 0 0 1 163.3 289.7 Z" fill="#c23b1f"/>
<text x="152.3" y="302.7" font-size="2.9" fill="#fff" fill-opacity="0.9" text-anchor="middle">25.0%</text>
<text x="175" y="325" font-size="2.9" fill="#fff" fill-opacity="0.9" text-anchor="middle">75.0%</text>
<circle cx="226.6" cy="291.2" r="1.45" fill="#4464c9"/><circle cx="226.6" cy="296" r="1.45" fill="#c23b1f"/>
<text x="229.3" y="292.2" font-size="2.9" fill="#555" textLength="16.4" lengthAdjust="spacingAndGlyphs">BookingCom</text>
<text x="229.3" y="297" font-size="2.9" fill="#555" textLength="10.6" lengthAdjust="spacingAndGlyphs">Expedia</text>
<path d="M122.8 404.70 L248 404.70" stroke="#e9e9e9" stroke-width="0.6"/>
<text x="117.8" y="406.70" font-size="4.6" fill="#717171" text-anchor="end">8</text>
<path d="M122.8 418.68 L248 418.68" stroke="#e9e9e9" stroke-width="0.6"/>
<text x="117.8" y="420.68" font-size="4.6" fill="#717171" text-anchor="end">6</text>
<path d="M122.8 432.65 L248 432.65" stroke="#e9e9e9" stroke-width="0.6"/>
<text x="117.8" y="434.65" font-size="4.6" fill="#717171" text-anchor="end">4</text>
<path d="M122.8 446.62 L248 446.62" stroke="#e9e9e9" stroke-width="0.6"/>
<text x="117.8" y="448.62" font-size="4.6" fill="#717171" text-anchor="end">2</text>
<path d="M122.8 460.60 L248 460.60" stroke="#e9e9e9" stroke-width="0.6"/>
<text x="117.8" y="462.60" font-size="4.6" fill="#717171" text-anchor="end">0</text>
<text transform="translate(123.80,467.0) rotate(-68)" font-size="4.4" fill="#929292" text-anchor="end">07/2019</text>
<text transform="translate(135.18,467.0) rotate(-68)" font-size="4.4" fill="#929292" text-anchor="end">08/2019</text>
<text transform="translate(146.56,467.0) rotate(-68)" font-size="4.4" fill="#929292" text-anchor="end">09/2019</text>
<text transform="translate(157.95,467.0) rotate(-68)" font-size="4.4" fill="#929292" text-anchor="end">10/2019</text>
<text transform="translate(169.33,467.0) rotate(-68)" font-size="4.4" fill="#929292" text-anchor="end">11/2019</text>
<text transform="translate(180.71,467.0) rotate(-68)" font-size="4.4" fill="#929292" text-anchor="end">12/2019</text>
<text transform="translate(192.09,467.0) rotate(-68)" font-size="4.4" fill="#929292" text-anchor="end">01/2020</text>
<text transform="translate(203.47,467.0) rotate(-68)" font-size="4.4" fill="#929292" text-anchor="end">02/2020</text>
<text transform="translate(214.85,467.0) rotate(-68)" font-size="4.4" fill="#929292" text-anchor="end">03/2020</text>
<text transform="translate(226.24,467.0) rotate(-68)" font-size="4.4" fill="#929292" text-anchor="end">04/2020</text>
<text transform="translate(237.62,467.0) rotate(-68)" font-size="4.4" fill="#929292" text-anchor="end">05/2020</text>
<text transform="translate(249.00,467.0) rotate(-68)" font-size="4.4" fill="#929292" text-anchor="end">06/2020</text>
<path d="M122.80 460.60 C125.76 455.15 130.81 444.81 134.18 439.64 C136.73 435.73 142.16 428.79 145.56 425.66 C148.08 423.34 154.82 417.37 156.95 418.68 C160.74 421.00 164.96 438.60 168.33 439.64 C170.87 440.42 176.31 428.79 179.71 425.66 C182.23 423.34 188.97 417.37 191.09 418.68 C194.89 421.00 198.68 434.98 202.47 439.64 C204.60 442.25 211.34 444.31 213.85 446.62 C217.25 449.76 221.84 459.56 225.24 460.60 C227.76 460.60 233.66 455.43 236.62 453.61 C239.58 451.80 245.04 448.44 248.00 446.62 L248 460.6 L122.8 460.6 Z" fill="#c9f0e0" fill-opacity="0.92"/>
<path d="M122.80 460.60 C125.76 455.15 130.81 444.81 134.18 439.64 C136.73 435.73 142.16 428.79 145.56 425.66 C148.08 423.34 154.82 417.37 156.95 418.68 C160.74 421.00 164.96 438.60 168.33 439.64 C170.87 440.42 176.31 428.79 179.71 425.66 C182.23 423.34 188.97 417.37 191.09 418.68 C194.89 421.00 198.68 434.98 202.47 439.64 C204.60 442.25 211.34 444.31 213.85 446.62 C217.25 449.76 221.84 459.56 225.24 460.60 C227.76 460.60 233.66 455.43 236.62 453.61 C239.58 451.80 245.04 448.44 248.00 446.62" fill="none" stroke="#3db67d" stroke-width="0.55" stroke-opacity="0.8"/>
<circle cx="122.80" cy="460.60" r="0.85" fill="#3db67d"/>
<circle cx="134.18" cy="439.64" r="0.85" fill="#3db67d"/>
<circle cx="145.56" cy="425.66" r="0.85" fill="#3db67d"/>
<circle cx="156.95" cy="418.68" r="0.85" fill="#3db67d"/>
<circle cx="168.33" cy="439.64" r="0.85" fill="#3db67d"/>
<circle cx="179.71" cy="425.66" r="0.85" fill="#3db67d"/>
<circle cx="191.09" cy="418.68" r="0.85" fill="#3db67d"/>
<circle cx="202.47" cy="439.64" r="0.85" fill="#3db67d"/>
<circle cx="213.85" cy="446.62" r="0.85" fill="#3db67d"/>
<circle cx="225.24" cy="460.60" r="0.85" fill="#3db67d"/>
<circle cx="236.62" cy="453.61" r="0.85" fill="#3db67d"/>
<circle cx="248.00" cy="446.62" r="0.85" fill="#3db67d"/>
<path d="M280.5 404.70 L400.5 404.70" stroke="#e9e9e9" stroke-width="0.6"/>
<text x="276" y="406.70" font-size="4.6" fill="#717171" text-anchor="end">400</text>
<path d="M280.5 418.68 L400.5 418.68" stroke="#e9e9e9" stroke-width="0.6"/>
<text x="276" y="420.68" font-size="4.6" fill="#717171" text-anchor="end">300</text>
<path d="M280.5 432.65 L400.5 432.65" stroke="#e9e9e9" stroke-width="0.6"/>
<text x="276" y="434.65" font-size="4.6" fill="#717171" text-anchor="end">200</text>
<path d="M280.5 446.62 L400.5 446.62" stroke="#e9e9e9" stroke-width="0.6"/>
<text x="276" y="448.62" font-size="4.6" fill="#717171" text-anchor="end">100</text>
<path d="M280.5 460.60 L400.5 460.60" stroke="#e9e9e9" stroke-width="0.6"/>
<text x="276" y="462.60" font-size="4.6" fill="#717171" text-anchor="end">0</text>
<text transform="translate(281.50,467.0) rotate(-68)" font-size="4.4" fill="#929292" text-anchor="end">07/2019</text>
<text transform="translate(292.41,467.0) rotate(-68)" font-size="4.4" fill="#929292" text-anchor="end">08/2019</text>
<text transform="translate(303.32,467.0) rotate(-68)" font-size="4.4" fill="#929292" text-anchor="end">09/2019</text>
<text transform="translate(314.23,467.0) rotate(-68)" font-size="4.4" fill="#929292" text-anchor="end">10/2019</text>
<text transform="translate(325.14,467.0) rotate(-68)" font-size="4.4" fill="#929292" text-anchor="end">11/2019</text>
<text transform="translate(336.05,467.0) rotate(-68)" font-size="4.4" fill="#929292" text-anchor="end">12/2019</text>
<text transform="translate(346.95,467.0) rotate(-68)" font-size="4.4" fill="#929292" text-anchor="end">01/2020</text>
<text transform="translate(357.86,467.0) rotate(-68)" font-size="4.4" fill="#929292" text-anchor="end">02/2020</text>
<text transform="translate(368.77,467.0) rotate(-68)" font-size="4.4" fill="#929292" text-anchor="end">03/2020</text>
<text transform="translate(379.68,467.0) rotate(-68)" font-size="4.4" fill="#929292" text-anchor="end">04/2020</text>
<text transform="translate(390.59,467.0) rotate(-68)" font-size="4.4" fill="#929292" text-anchor="end">05/2020</text>
<text transform="translate(401.50,467.0) rotate(-68)" font-size="4.4" fill="#929292" text-anchor="end">06/2020</text>
<path d="M280.50 456.13 C283.34 451.84 287.79 442.81 291.41 439.64 C293.46 437.83 300.01 438.55 302.32 436.98 C305.68 434.70 309.91 427.29 313.23 424.82 C315.59 423.07 321.37 420.58 324.14 420.77 C327.05 420.98 332.38 426.72 335.05 426.36 C338.05 425.96 343.04 418.00 345.95 417.84 C348.71 417.68 354.68 422.59 356.86 425.10 C360.35 429.13 364.39 438.81 367.77 442.99 C370.06 445.82 375.68 451.69 378.68 452.08 C381.35 452.42 387.15 447.90 389.59 445.79 C392.82 442.99 397.66 436.48 400.50 433.21 L400.5 460.6 L280.5 460.6 Z" fill="#f8ddd6" fill-opacity="0.92"/>
<path d="M280.50 456.13 C283.34 451.84 287.79 442.81 291.41 439.64 C293.46 437.83 300.01 438.55 302.32 436.98 C305.68 434.70 309.91 427.29 313.23 424.82 C315.59 423.07 321.37 420.58 324.14 420.77 C327.05 420.98 332.38 426.72 335.05 426.36 C338.05 425.96 343.04 418.00 345.95 417.84 C348.71 417.68 354.68 422.59 356.86 425.10 C360.35 429.13 364.39 438.81 367.77 442.99 C370.06 445.82 375.68 451.69 378.68 452.08 C381.35 452.42 387.15 447.90 389.59 445.79 C392.82 442.99 397.66 436.48 400.50 433.21" fill="none" stroke="#e2553b" stroke-width="0.55" stroke-opacity="0.8"/>
<circle cx="280.50" cy="456.13" r="0.85" fill="#e2553b"/>
<circle cx="291.41" cy="439.64" r="0.85" fill="#e2553b"/>
<circle cx="302.32" cy="436.98" r="0.85" fill="#e2553b"/>
<circle cx="313.23" cy="424.82" r="0.85" fill="#e2553b"/>
<circle cx="324.14" cy="420.77" r="0.85" fill="#e2553b"/>
<circle cx="335.05" cy="426.36" r="0.85" fill="#e2553b"/>
<circle cx="345.95" cy="417.84" r="0.85" fill="#e2553b"/>
<circle cx="356.86" cy="425.10" r="0.85" fill="#e2553b"/>
<circle cx="367.77" cy="442.99" r="0.85" fill="#e2553b"/>
<circle cx="378.68" cy="452.08" r="0.85" fill="#e2553b"/>
<circle cx="389.59" cy="445.79" r="0.85" fill="#e2553b"/>
<circle cx="400.50" cy="433.21" r="0.85" fill="#e2553b"/>
<path d="M451.8 404.70 L572 404.70" stroke="#e9e9e9" stroke-width="0.6"/>
<text x="446.6" y="406.70" font-size="4.6" fill="#717171" text-anchor="end">600</text>
<path d="M451.8 418.68 L572 418.68" stroke="#e9e9e9" stroke-width="0.6"/>
<text x="446.6" y="420.68" font-size="4.6" fill="#717171" text-anchor="end">400</text>
<path d="M451.8 432.65 L572 432.65" stroke="#e9e9e9" stroke-width="0.6"/>
<text x="446.6" y="434.65" font-size="4.6" fill="#717171" text-anchor="end">300</text>
<path d="M451.8 446.62 L572 446.62" stroke="#e9e9e9" stroke-width="0.6"/>
<text x="446.6" y="448.62" font-size="4.6" fill="#717171" text-anchor="end">100</text>
<path d="M451.8 460.60 L572 460.60" stroke="#e9e9e9" stroke-width="0.6"/>
<text x="446.6" y="462.60" font-size="4.6" fill="#717171" text-anchor="end">0</text>
<text transform="translate(452.80,467.0) rotate(-68)" font-size="4.4" fill="#929292" text-anchor="end">07/2019</text>
<text transform="translate(463.73,467.0) rotate(-68)" font-size="4.4" fill="#929292" text-anchor="end">08/2019</text>
<text transform="translate(474.65,467.0) rotate(-68)" font-size="4.4" fill="#929292" text-anchor="end">09/2019</text>
<text transform="translate(485.58,467.0) rotate(-68)" font-size="4.4" fill="#929292" text-anchor="end">10/2019</text>
<text transform="translate(496.51,467.0) rotate(-68)" font-size="4.4" fill="#929292" text-anchor="end">11/2019</text>
<text transform="translate(507.44,467.0) rotate(-68)" font-size="4.4" fill="#929292" text-anchor="end">12/2019</text>
<text transform="translate(518.36,467.0) rotate(-68)" font-size="4.4" fill="#929292" text-anchor="end">01/2020</text>
<text transform="translate(529.29,467.0) rotate(-68)" font-size="4.4" fill="#929292" text-anchor="end">02/2020</text>
<text transform="translate(540.22,467.0) rotate(-68)" font-size="4.4" fill="#929292" text-anchor="end">03/2020</text>
<text transform="translate(551.15,467.0) rotate(-68)" font-size="4.4" fill="#929292" text-anchor="end">04/2020</text>
<text transform="translate(562.07,467.0) rotate(-68)" font-size="4.4" fill="#929292" text-anchor="end">05/2020</text>
<text transform="translate(573.00,467.0) rotate(-68)" font-size="4.4" fill="#929292" text-anchor="end">06/2020</text>
<path d="M451.80 408.52 C454.64 408.52 459.90 408.29 462.73 408.52 C465.59 408.75 470.81 410.29 473.65 410.29 C476.50 410.29 481.74 408.52 484.58 408.52 C487.42 408.52 492.67 410.29 495.51 410.29 C498.35 410.29 503.58 408.69 506.44 408.52 C509.26 408.35 514.58 408.51 517.36 408.99 C520.26 409.48 525.44 412.21 528.29 412.25 C531.12 412.28 536.98 408.18 539.22 409.27 C542.66 410.94 547.16 422.56 550.15 422.87 C552.84 423.14 557.82 413.83 561.07 411.50 C563.50 409.76 569.16 408.33 572.00 407.22" fill="none" stroke="#3db67d" stroke-width="0.7" stroke-opacity="1"/>
<circle cx="451.80" cy="408.52" r="1.0" fill="#3db67d"/>
<circle cx="462.73" cy="408.52" r="1.0" fill="#3db67d"/>
<circle cx="473.65" cy="410.29" r="1.0" fill="#3db67d"/>
<circle cx="484.58" cy="408.52" r="1.0" fill="#3db67d"/>
<circle cx="495.51" cy="410.29" r="1.0" fill="#3db67d"/>
<circle cx="506.44" cy="408.52" r="1.0" fill="#3db67d"/>
<circle cx="517.36" cy="408.99" r="1.0" fill="#3db67d"/>
<circle cx="528.29" cy="412.25" r="1.0" fill="#3db67d"/>
<circle cx="539.22" cy="409.27" r="1.0" fill="#3db67d"/>
<circle cx="550.15" cy="422.87" r="1.0" fill="#3db67d"/>
<circle cx="561.07" cy="411.50" r="1.0" fill="#3db67d"/>
<circle cx="572.00" cy="407.22" r="1.0" fill="#3db67d"/>
<path d="M451.80 438.43 C454.64 437.84 459.86 436.62 462.73 436.19 C465.55 435.77 470.92 435.86 473.65 435.17 C476.60 434.41 481.66 431.55 484.58 430.60 C487.35 429.70 492.78 427.74 495.51 428.08 C498.46 428.46 503.68 433.58 506.44 433.40 C509.36 433.20 514.56 426.52 517.36 426.59 C520.24 426.67 525.56 434.18 528.29 433.95 C531.24 433.72 536.25 425.10 539.22 424.82 C541.93 424.57 547.33 431.96 550.15 431.90 C553.01 431.84 558.21 424.39 561.07 424.36 C563.90 424.32 569.16 429.74 572.00 431.63" fill="none" stroke="#e2553b" stroke-width="0.7" stroke-opacity="1"/>
<circle cx="451.80" cy="438.43" r="1.0" fill="#e2553b"/>
<circle cx="462.73" cy="436.19" r="1.0" fill="#e2553b"/>
<circle cx="473.65" cy="435.17" r="1.0" fill="#e2553b"/>
<circle cx="484.58" cy="430.60" r="1.0" fill="#e2553b"/>
<circle cx="495.51" cy="428.08" r="1.0" fill="#e2553b"/>
<circle cx="506.44" cy="433.40" r="1.0" fill="#e2553b"/>
<circle cx="517.36" cy="426.59" r="1.0" fill="#e2553b"/>
<circle cx="528.29" cy="433.95" r="1.0" fill="#e2553b"/>
<circle cx="539.22" cy="424.82" r="1.0" fill="#e2553b"/>
<circle cx="550.15" cy="431.90" r="1.0" fill="#e2553b"/>
<circle cx="561.07" cy="424.36" r="1.0" fill="#e2553b"/>
<circle cx="572.00" cy="431.63" r="1.0" fill="#e2553b"/>
<path d="M610.8 404.70 L724.2 404.70" stroke="#e9e9e9" stroke-width="0.6"/>
<text x="606" y="406.70" font-size="4.6" fill="#717171" text-anchor="end">90,000</text>
<path d="M610.8 418.68 L724.2 418.68" stroke="#e9e9e9" stroke-width="0.6"/>
<text x="606" y="420.68" font-size="4.6" fill="#717171" text-anchor="end">67,500</text>
<path d="M610.8 432.65 L724.2 432.65" stroke="#e9e9e9" stroke-width="0.6"/>
<text x="606" y="434.65" font-size="4.6" fill="#717171" text-anchor="end">45,000</text>
<path d="M610.8 446.62 L724.2 446.62" stroke="#e9e9e9" stroke-width="0.6"/>
<text x="606" y="448.62" font-size="4.6" fill="#717171" text-anchor="end">22,500</text>
<path d="M610.8 460.60 L724.2 460.60" stroke="#e9e9e9" stroke-width="0.6"/>
<text x="606" y="462.60" font-size="4.6" fill="#717171" text-anchor="end">0</text>
<text transform="translate(611.80,467.0) rotate(-68)" font-size="4.4" fill="#929292" text-anchor="end">07/2019</text>
<text transform="translate(622.11,467.0) rotate(-68)" font-size="4.4" fill="#929292" text-anchor="end">08/2019</text>
<text transform="translate(632.42,467.0) rotate(-68)" font-size="4.4" fill="#929292" text-anchor="end">09/2019</text>
<text transform="translate(642.73,467.0) rotate(-68)" font-size="4.4" fill="#929292" text-anchor="end">10/2019</text>
<text transform="translate(653.04,467.0) rotate(-68)" font-size="4.4" fill="#929292" text-anchor="end">11/2019</text>
<text transform="translate(663.35,467.0) rotate(-68)" font-size="4.4" fill="#929292" text-anchor="end">12/2019</text>
<text transform="translate(673.65,467.0) rotate(-68)" font-size="4.4" fill="#929292" text-anchor="end">01/2020</text>
<text transform="translate(683.96,467.0) rotate(-68)" font-size="4.4" fill="#929292" text-anchor="end">02/2020</text>
<text transform="translate(694.27,467.0) rotate(-68)" font-size="4.4" fill="#929292" text-anchor="end">03/2020</text>
<text transform="translate(704.58,467.0) rotate(-68)" font-size="4.4" fill="#929292" text-anchor="end">04/2020</text>
<text transform="translate(714.89,467.0) rotate(-68)" font-size="4.4" fill="#929292" text-anchor="end">05/2020</text>
<text transform="translate(725.20,467.0) rotate(-68)" font-size="4.4" fill="#929292" text-anchor="end">06/2020</text>
<path d="M610.80 460.60 C613.48 460.60 618.43 460.60 621.11 460.60 C623.79 460.60 628.74 460.60 631.42 460.60 C634.10 460.60 639.05 460.60 641.73 460.60 C644.41 460.60 649.36 460.60 652.04 460.60 C654.72 460.60 659.67 460.60 662.35 460.60 C665.03 460.60 669.97 460.60 672.65 460.60 C675.33 460.60 680.28 460.60 682.96 460.60 C685.64 460.60 690.59 460.60 693.27 460.60 C695.95 460.60 700.90 460.60 703.58 460.60 C706.26 460.60 711.21 460.60 713.89 460.60 C716.57 460.60 721.52 460.60 724.20 460.60" fill="none" stroke="#3db67d" stroke-width="0.7" stroke-opacity="1"/>
<circle cx="610.80" cy="460.60" r="1.0" fill="#3db67d"/>
<circle cx="621.11" cy="460.60" r="1.0" fill="#3db67d"/>
<circle cx="631.42" cy="460.60" r="1.0" fill="#3db67d"/>
<circle cx="641.73" cy="460.60" r="1.0" fill="#3db67d"/>
<circle cx="652.04" cy="460.60" r="1.0" fill="#3db67d"/>
<circle cx="662.35" cy="460.60" r="1.0" fill="#3db67d"/>
<circle cx="672.65" cy="460.60" r="1.0" fill="#3db67d"/>
<circle cx="682.96" cy="460.60" r="1.0" fill="#3db67d"/>
<circle cx="693.27" cy="460.60" r="1.0" fill="#3db67d"/>
<circle cx="703.58" cy="460.60" r="1.0" fill="#3db67d"/>
<circle cx="713.89" cy="460.60" r="1.0" fill="#3db67d"/>
<circle cx="724.20" cy="460.60" r="1.0" fill="#3db67d"/>
<path d="M610.80 448.51 C613.48 448.05 618.57 447.62 621.11 446.75 C623.93 445.79 629.44 443.60 631.42 441.47 C634.80 437.84 638.36 426.45 641.73 424.59 C643.72 423.50 649.46 430.35 652.04 430.13 C654.82 429.90 660.30 425.31 662.35 422.84 C665.66 418.83 670.50 404.05 672.65 405.20 C675.87 406.93 679.04 427.63 682.96 433.91 C684.40 436.21 691.20 436.31 693.27 438.19 C696.56 441.16 700.24 450.67 703.58 452.54 C705.60 453.68 711.17 450.07 713.89 449.77 C716.53 449.48 721.52 450.15 724.20 450.28" fill="none" stroke="#e2553b" stroke-width="0.7" stroke-opacity="1"/>
<circle cx="610.80" cy="448.51" r="1.0" fill="#e2553b"/>
<circle cx="621.11" cy="446.75" r="1.0" fill="#e2553b"/>
<circle cx="631.42" cy="441.47" r="1.0" fill="#e2553b"/>
<circle cx="641.73" cy="424.59" r="1.0" fill="#e2553b"/>
<circle cx="652.04" cy="430.13" r="1.0" fill="#e2553b"/>
<circle cx="662.35" cy="422.84" r="1.0" fill="#e2553b"/>
<circle cx="672.65" cy="405.20" r="1.0" fill="#e2553b"/>
<circle cx="682.96" cy="433.91" r="1.0" fill="#e2553b"/>
<circle cx="693.27" cy="438.19" r="1.0" fill="#e2553b"/>
<circle cx="703.58" cy="452.54" r="1.0" fill="#e2553b"/>
<circle cx="713.89" cy="449.77" r="1.0" fill="#e2553b"/>
<circle cx="724.20" cy="450.28" r="1.0" fill="#e2553b"/>
</svg>
</div></div>
</body></html>
